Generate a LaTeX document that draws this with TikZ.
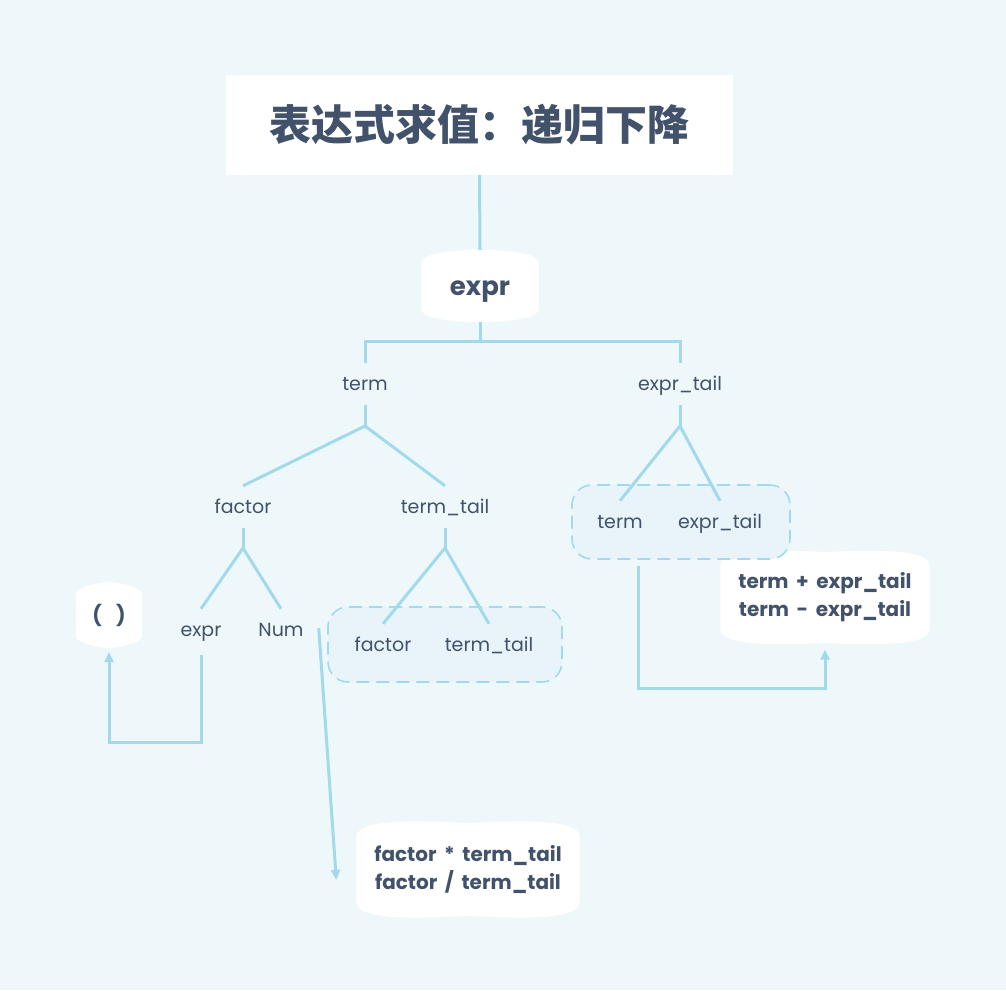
\documentclass[tikz,border=0pt]{standalone}
\usepackage{fontspec}
\setmainfont{Poppins}
\newfontfamily\cjk{Noto Sans CJK SC}
\usetikzlibrary{arrows.meta,positioning,calc,backgrounds}
\definecolor{Ink}{HTML}{42526B}
\definecolor{Wire}{HTML}{A2DAEC}
\definecolor{Paper}{HTML}{EEF7FA}
\definecolor{Pool}{HTML}{E8F3FA}

\tikzset{
  tag/.style={font=\fontsize{19}{22}\selectfont,text=Ink,minimum height=42pt,inner sep=0pt,text height=15pt,text depth=3pt},
  prod/.style={font=\bfseries\fontsize{20}{27}\selectfont,text=Ink,align=center,inner sep=0pt},
  link/.style={Wire,line width=3pt},
  flow/.style={link,-{Triangle[length=10pt,width=9pt]}},
  pool/.style={draw=Wire,fill=Pool,dash pattern=on 13pt off 7pt,line width=1.6pt,rounded corners=20pt,inner sep=0pt},
}
% white blob with curved top and bottom behind a node
\newcommand\blobfill[2]{%
  \fill[white] ($(#1.north west)+(0,-#2)$) to[out=90,in=180,looseness=0.5] (#1.north)
    to[out=0,in=90,looseness=0.5] ($(#1.north east)+(0,-#2)$) -- ($(#1.south east)+(0,#2)$)
    to[out=-90,in=0,looseness=0.5] (#1.south) to[out=180,in=-90,looseness=0.5] ($(#1.south west)+(0,#2)$) -- cycle;}

\begin{document}
\begin{tikzpicture}[x=1pt,y=-1pt]
\useasboundingbox (0,0) rectangle (1006,990);
% title and root
\node[fill=white,minimum width=507pt,minimum height=100pt,text=Ink,font=\cjk\bfseries\fontsize{42}{48}\selectfont] (title) at (479.5,125) {表达式求值：递归下降};
\node[prod,font=\bfseries\fontsize{26}{30}\selectfont,minimum width=117pt,minimum height=72pt,text height=18pt,text depth=0pt] (expr) at (480,286) {expr};
% dashed groups
\node[pool,minimum width=234pt,minimum height=75pt] (lbox) at (445,644.5) {};
\node[pool,minimum width=218pt,minimum height=74pt] (rbox) at (681,522) {};
% tree labels
\node[tag] (term) at (365,384) {term};
\node[tag] (exprtail) at (680,384) {expr\_tail};
\node[tag] (factor) at (243,507) {factor};
\node[tag] (termtail) at (445,507) {term\_tail};
\node[tag] (rterm) at (620,522) {term};
\node[tag] (rtail) at (720,522) {expr\_tail};
\node[tag] (subexpr) at (201,630) {expr};
\node[tag] (num) at (281,630) {Num};
\node[tag] (lfactor) at (383,645) {factor};
\node[tag] (ltail) at (489,645) {term\_tail};
% productions
\node[prod,minimum width=66pt,minimum height=66pt] (paren) at (109,615) {(\hspace{14pt})};
\node[prod,minimum width=223pt,minimum height=93pt] (mulrule) at (468,869.5) {factor\ \,*\ \,term\_tail\\[1pt]factor\ \,/\ \,term\_tail};
\node[prod,minimum width=209pt,minimum height=91pt] (addrule) at (825,597.5) {term\ \,+\ \,expr\_tail\\[1pt]term\ \,-\ \,expr\_tail};
% forks
\coordinate (forkA) at (480,341);
\coordinate (forkB) at (365,426);
\coordinate (forkC) at (680,426);
\coordinate (forkD) at (243,548);
\coordinate (forkE) at (445,548);
\draw[link] (title.south) -- (expr.north);
\draw[link] (expr.south) -- (forkA);
\draw[link] (term.north) |- (forkA) -| (exprtail.north);
\draw[link] (term.south) -- (forkB);
\draw[link] (factor.north) -- (forkB) -- (termtail.north);
\draw[link] (exprtail.south) -- (forkC);
\draw[link] (rterm.north) -- (forkC) -- (rtail.north);
\draw[link] (factor.south) -- (forkD);
\draw[link] (subexpr.north) -- (forkD) -- (num.north);
\draw[link] (termtail.south) -- (forkE);
\draw[link] (lfactor.north) -- (forkE) -- (ltail.north);
% recursion arrows
\draw[flow] ([yshift=-4pt]subexpr.south) -- ++(0,87) -| ([yshift=-4pt]paren.south);
\draw[flow] ([xshift=15pt,yshift=2pt]num.east) -- ([xshift=-20pt,yshift=-10.5pt]mulrule.west);
\draw[flow] ([xshift=-43pt,yshift=-6pt]rbox.south) -- ++(0,123) -| ([yshift=-6.5pt]addrule.south);
\begin{scope}[on background layer]
\fill[Paper] (0,0) rectangle (1006,990);
\blobfill{expr}{13pt}
\blobfill{paren}{12pt}
\blobfill{mulrule}{14pt}
\blobfill{addrule}{14pt}
\end{scope}
\end{tikzpicture}
\end{document}
